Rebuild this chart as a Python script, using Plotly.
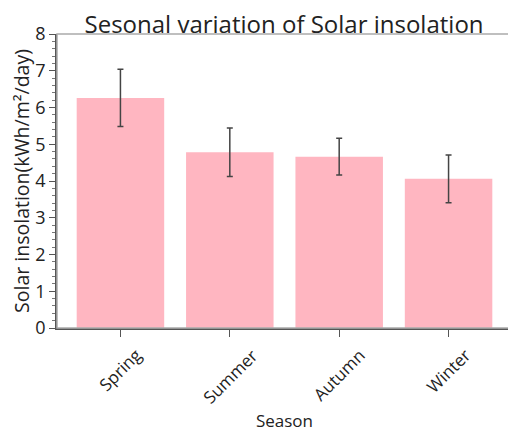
import plotly.graph_objects as go

seasons = ["Spring", "Summer", "Autumn", "Winter"]
insolation = [6.26, 4.78, 4.66, 4.06]
errors = [0.78, 0.66, 0.50, 0.65]

font = "Open Sans"

fig = go.Figure()
fig.add_trace(go.Bar(
    x=seasons, y=insolation,
    width=0.8,
    marker=dict(color="#FFB6C1", line=dict(width=0)),
    error_y=dict(type="data", array=errors, visible=True,
                 color="#444444", thickness=1.5, width=3),
))

# rotated category labels centred under each tick (matplotlib-style)
for s in seasons:
    fig.add_annotation(x=s, y=0, xref="x", yref="paper", text=s, showarrow=False,
                       textangle=-45, xanchor="center", yanchor="top", yshift=-13,
                       font=dict(family=font, size=17, color="#222"))

fig.update_layout(
    width=516, height=433,
    margin=dict(l=49, r=12, t=26, b=113),
    plot_bgcolor="white", paper_bgcolor="white",
    showlegend=False,
    title=dict(text="Sesonal variation of Solar insolation",
               font=dict(family=font, size=24, color="#222"),
               x=0.535, xanchor="center", y=0.982, yanchor="top"),
    xaxis=dict(
        range=[-0.58, 3.58],
        showticklabels=False,
        ticks="outside", ticklen=7, tickcolor="#555",
        showline=True, linecolor="#555", linewidth=1.5,
        showgrid=False,
        title=dict(text="Season", font=dict(family=font, size=17, color="#222"), standoff=79),
    ),
    yaxis=dict(
        range=[0, 8], dtick=1,
        ticks="outside", ticklen=6, tickcolor="#555",
        tickfont=dict(family=font, size=18, color="#222"),
        showline=True, linecolor="#555", linewidth=1.5,
        showgrid=False, zeroline=False,
        minor=dict(dtick=0.2, ticks="outside", ticklen=3, tickcolor="#777"),
        title=dict(text="Solar insolation(kWh/m²/day)",
                   font=dict(family=font, size=19.5, color="#222"), standoff=3),
    ),
)
fig.add_shape(type="rect", xref="paper", yref="paper", x0=0, y0=0, x1=1, y1=1,
              line=dict(color="#aaaaaa", width=1.5), layer="above")

fig.write_html("out.html")
